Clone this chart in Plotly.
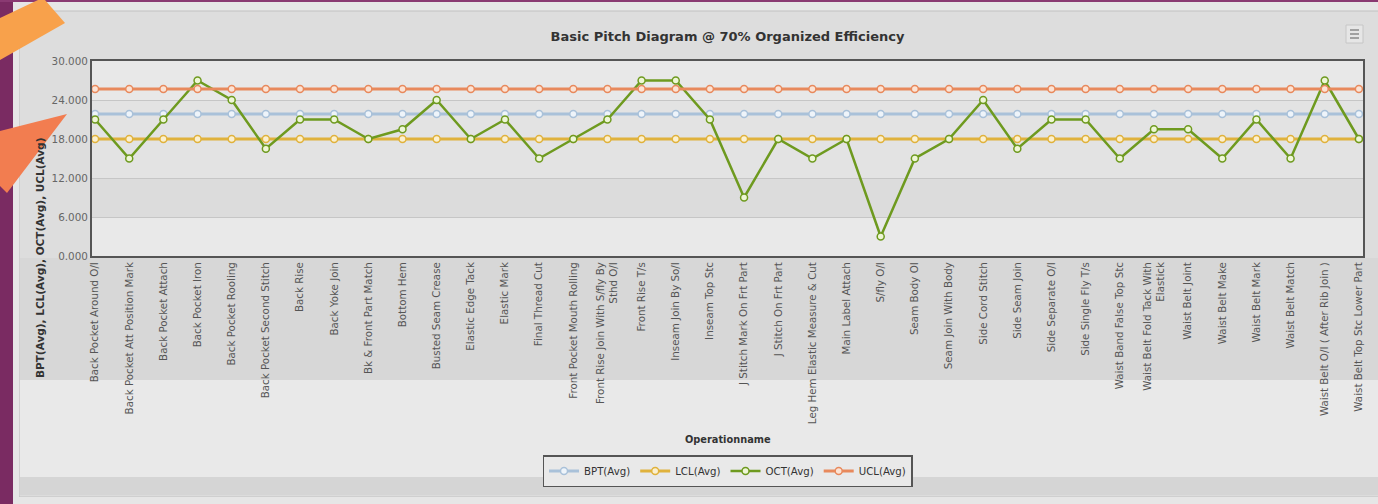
import plotly.graph_objects as go

categories = [
    "Back Pocket Around O/I", "Back Pocket Att Position Mark", "Back Pocket Attach",
    "Back Pocket Iron", "Back Pocket Rooling", "Back Pocket Second Stitch", "Back Rise",
    "Back Yoke Join", "Bk & Front Part Match", "Bottom Hem", "Busted Seam Crease",
    "Elastic Edge Tack", "Elastic Mark", "Final Thread Cut", "Front Pocket Mouth Rolling",
    "Front Rise Join With S/fly By<br>Sthd O/I", "Front Rise T/s", "Inseam Join By So/I",
    "Inseam Top Stc", "J Stitch Mark On Frt Part", "J Stitch On Frt Part",
    "Leg Hem Elastic Measure & Cut", "Main Label Attach", "S/fly O/I", "Seam Body OI",
    "Seam Join With Body", "Side Cord Stitch", "Side Seam Join", "Side Separate O/I",
    "Side Single Fly T/s", "Waist Band False Top Stc", "Waist Belt Fold Tack With<br>Elastick",
    "Waist Belt Joint", "Waist Belt Make", "Waist Belt Mark", "Waist Belt Match",
    "Waist Belt O/I ( After Rib Join )", "Waist Belt Top Stc Lower Part",
]

oct_avg = [21, 15, 21, 27, 24, 16.5, 21, 21, 18, 19.5, 24, 18, 21, 15, 18, 21, 27, 27, 21,
           9, 18, 15, 18, 3, 15, 18, 24, 16.5, 21, 21, 15, 19.5, 19.5, 15, 21, 15, 27, 18]
bpt_value = 21.85
lcl_value = 18.0
ucl_value = 25.7

bpt_avg = [bpt_value] * len(categories)
lcl_avg = [lcl_value] * len(categories)
ucl_avg = [ucl_value] * len(categories)

y_ticks = [0, 6, 12, 18, 24, 30]

# ---- geometry helpers (pixel -> paper) ----
W, H = 1378, 504
L, R, T, B = 92, 1363, 61, 256


def px(x):
    return (x - L) / (R - L)


def py(y):
    return (B - y) / (B - T)


fig = go.Figure()

series = [
    ("BPT(Avg)", bpt_avg, "#a9c1d9", "#eef4fa", 3),
    ("LCL(Avg)", lcl_avg, "#e0b23c", "#fbf0cf", 3),
    ("OCT(Avg)", oct_avg, "#6e9a1f", "#eef6d6", 2.5),
    ("UCL(Avg)", ucl_avg, "#e8895c", "#fbe3d5", 3),
]
for name, vals, col, fill, lw in series:
    fig.add_trace(go.Scatter(
        x=categories, y=vals, name=name, mode="lines+markers",
        line=dict(color=col, width=lw),
        marker=dict(size=7, color=fill, line=dict(color=col, width=1.5)),
    ))

shapes = []


def rect(x0, y0, x1, y1, fill, line=None, lw=0, layer="below"):
    shapes.append(dict(type="rect", xref="paper", yref="paper",
                       x0=px(x0), x1=px(x1), y0=py(y0), y1=py(y1),
                       fillcolor=fill, line=dict(color=line or fill, width=lw),
                       layer=layer))


# chart container backgrounds
rect(19, 11, 1385, 497, "#dcdcdc", "#c2c2c2", 1)
rect(20, 12, 1385, 258, "#dddddd")
rect(20, 258, 1385, 380, "#d7d7d7")
rect(20, 380, 1385, 477, "#e9e9e9")
rect(20, 477, 1385, 495, "#d5d5d5")
rect(0, 497, 1385, 510, "#e6e6e6")

# plot bands
bands = [(24, 30, "#e8e8e8"), (12, 24, "#e3e3e3"), (6, 12, "#dcdcdc"), (0, 6, "#e9e9e9")]
for y0, y1, c in bands:
    shapes.append(dict(type="rect", xref="paper", yref="y", x0=0, x1=1, y0=y0, y1=y1,
                       fillcolor=c, line=dict(width=0), layer="below"))

# menu button
rect(1346, 25, 1363, 43, "#e6e6e6", "#c6c6c6", 1, layer="above")
for yy in (30, 34, 38):
    shapes.append(dict(type="line", xref="paper", yref="paper",
                       x0=px(1350), x1=px(1359), y0=py(yy), y1=py(yy),
                       line=dict(color="#8a8a8a", width=1.5), layer="above"))

# decorative page elements
rect(13, 0, 19, 510, "#e6e6e6", layer="above")
rect(0, 0, 13, 510, "#7a2b62", layer="above")
rect(0, 0, 1385, 2, "#8a3a72", layer="above")


def path(pts):
    s = "M " + " L ".join(f"{px(a)},{py(b)}" for a, b in pts) + " Z"
    return s


shapes.append(dict(type="path", xref="paper", yref="paper",
                   path=path([(0, 18), (38, 0), (45, 0), (65, 23), (0, 60)]),
                   fillcolor="#f8a14b", line=dict(width=0), layer="above"))
shapes.append(dict(type="path", xref="paper", yref="paper",
                   path=path([(0, 131), (67, 114), (7, 193), (0, 186)]),
                   fillcolor="#f27d50", line=dict(width=0), layer="above"))

annotations = [
    dict(text="<b>BPT(Avg), LCL(Avg), OCT(Avg), UCL(Avg)</b>", textangle=-90,
         xref="paper", yref="paper", x=px(40), y=py(258), xanchor="center",
         yanchor="middle", showarrow=False,
         font=dict(family="DejaVu Sans", size=10.5, color="#333333")),
    dict(text="<b>Operationname</b>", xref="paper", yref="paper", x=0.5, y=py(439),
         xanchor="center", yanchor="middle",
         showarrow=False, font=dict(family="DejaVu Sans", size=9.8, color="#333333")),
]

fig.update_layout(
    width=W, height=H,
    margin=dict(l=L, r=W - R, t=T, b=H - B, pad=0),
    paper_bgcolor="#e6e6e6",
    plot_bgcolor="rgba(0,0,0,0)",
    title=dict(text="<b>Basic Pitch Diagram @ 70% Organized Efficiency</b>",
               x=0.5, xref="paper", xanchor="center", y=1 - 36 / H, yanchor="middle",
               font=dict(family="DejaVu Sans", size=13, color="#333333")),
    font=dict(family="DejaVu Sans", color="#555555"),
    showlegend=True,
    legend=dict(orientation="h", x=0.5, xanchor="center", y=py(455), yanchor="top",
                bgcolor="#e9e9e9", bordercolor="#555555", borderwidth=1.5,
                font=dict(size=10.2, color="#333333"), itemwidth=30),
    shapes=shapes,
    annotations=annotations,
    hovermode=False,
)

fig.update_xaxes(
    type="category", range=[-0.09, len(categories) - 1 + 0.12],
    tickangle=-90, tickfont=dict(size=10.3, color="#555555"),
    showgrid=False, showline=True, mirror=True, linecolor="#555555", linewidth=2,
    ticks="", zeroline=False,
)
fig.update_yaxes(
    range=[0, 30], tickvals=y_ticks, tickformat=".3f",
    tickfont=dict(size=10.4, color="#666666"),
    showgrid=True, gridcolor="#c6c6c6", gridwidth=1,
    showline=True, mirror=True, linecolor="#555555", linewidth=2,
    zeroline=False, ticks="",
)

fig.write_html(
    "out.html",
    config={"displayModeBar": False},
    post_script="document.body.style.margin='0';"
                "document.documentElement.style.overflow='hidden';",
)
